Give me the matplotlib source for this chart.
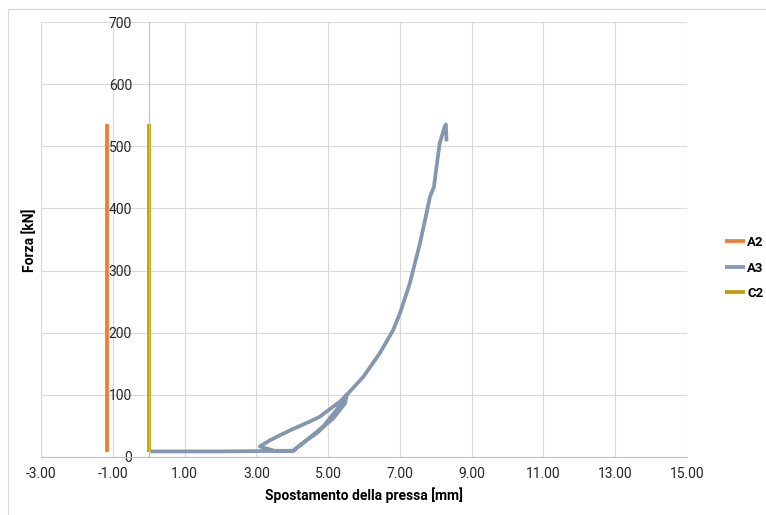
import matplotlib
matplotlib.use("Agg")
import matplotlib.pyplot as plt
from matplotlib.patches import Rectangle

plt.rcParams["font.family"] = ["Roboto", "DejaVu Sans"]
plt.rcParams["axes.unicode_minus"] = False

# Press displacement [mm] and force [kN] per specimen
a2_x = [-1.16, -1.16]
a2_y = [8, 536]

c2_x = [0.01, 0.01]
c2_y = [8, 536]

a3_x = [0.05, 1.00, 2.00, 3.00, 4.03,
        4.17, 4.40, 4.68, 4.90, 5.14, 5.47, 5.52,
        5.33, 5.14, 4.77, 4.49, 3.94, 3.38, 3.10,
        3.50, 4.03,
        4.40, 4.86, 5.24, 5.52,
        5.98, 6.44, 6.81, 7.00, 7.28, 7.37, 7.56, 7.74,
        7.84, 7.95, 8.02, 8.11, 8.25, 8.28, 8.30]
a3_y = [9, 9, 9, 9.5, 10,
        17, 27, 38, 50, 62, 86, 100,
        89, 81, 65, 57, 43, 27, 17,
        10, 10,
        27, 49, 76, 100,
        129, 167, 204, 231, 280, 301, 344, 392,
        419, 435, 467, 505, 532, 535, 508]

series = [
    ("A2", a2_x, a2_y, "#ED7D31"),
    ("A3", a3_x, a3_y, "#8497B0"),
    ("C2", c2_x, c2_y, "#C49A00"),
]

x_ticks = [-3, -1, 1, 3, 5, 7, 9, 11, 13, 15]
y_ticks = [0, 100, 200, 300, 400, 500, 600, 700]

fig = plt.figure(figsize=(7.66, 5.15), dpi=100)
ax = fig.add_axes([41 / 766, 1 - 457 / 515, 646 / 766, 435 / 515])

for name, xs, ys, col in series:
    ax.plot(xs, ys, color=col, lw=2.7, label=name, solid_capstyle="butt",
            solid_joinstyle="round")

ax.set_xlim(-3, 15)
ax.set_ylim(0, 700)
ax.set_xticks(x_ticks)
ax.set_xticklabels([f"{v:.2f}" for v in x_ticks])
ax.set_yticks(y_ticks)

ax.grid(True, color="#d9d9d9", lw=0.8)
ax.set_axisbelow(True)

for s in ("top", "right"):
    ax.spines[s].set_visible(False)
ax.spines["left"].set_position(("data", 0))
ax.spines["left"].set_color("#bfbfbf")
ax.spines["left"].set_linewidth(0.8)
ax.spines["bottom"].set_color("#bfbfbf")
ax.spines["bottom"].set_linewidth(0.8)

ax.tick_params(axis="both", length=0, labelsize=10, colors="#262626")
ax.tick_params(axis="x", pad=7)
ax.tick_params(axis="y", pad=12)

ax.set_xlabel("Spostamento della pressa [mm]", fontsize=10, fontweight="bold",
              color="#000000", labelpad=5)
fig.text(30 / 766, 1 - 240 / 515, "Forza [kN]", rotation=90, fontsize=10,
         fontweight="bold", ha="center", va="center")

leg = fig.legend(loc="center left", bbox_to_anchor=(713 / 766, 1 - 268 / 515),
                 frameon=False, handlelength=1.5, handletextpad=0.2,
                 labelspacing=0.95, prop={"weight": "bold", "size": 9.5})

fig.patches.append(Rectangle((8 / 766, -0.05), 1.2, 0.05 + 1 - 9 / 515,
                             transform=fig.transFigure, fill=False,
                             edgecolor="#d9d9d9", lw=0.8))

fig.savefig("out.png", dpi=100)
